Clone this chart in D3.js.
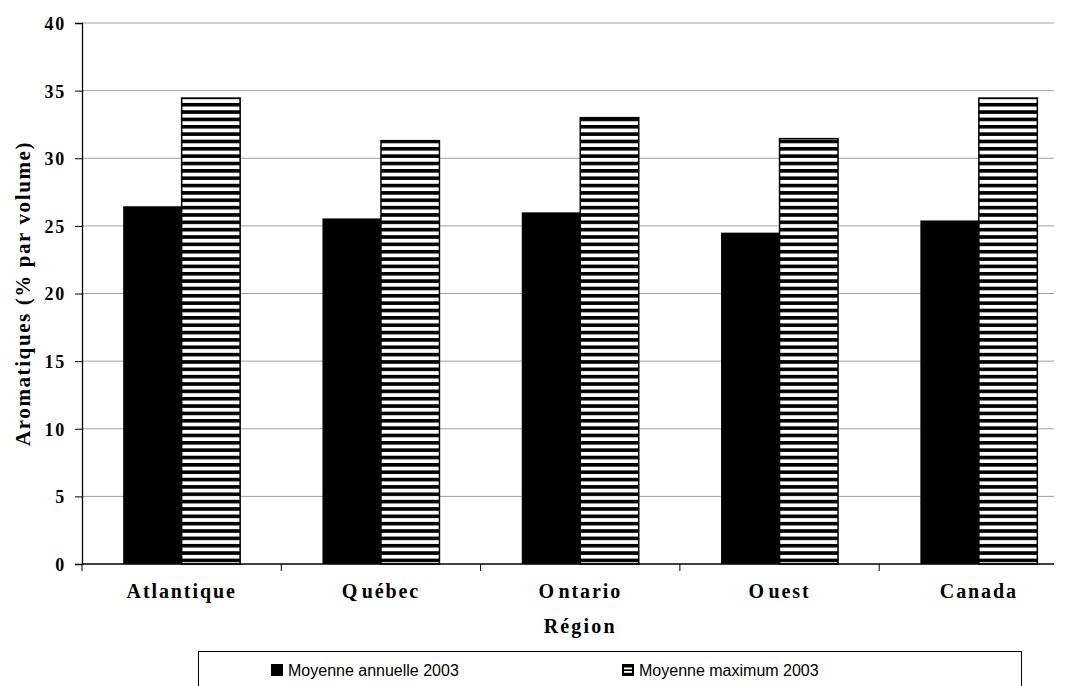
<!DOCTYPE html>
<html>
<head>
<meta charset="utf-8">
<script src="https://cdn.jsdelivr.net/npm/d3@7"></script>
<style>
  html, body { margin: 0; padding: 0; background: #fff; }
  svg { display: block; }
</style>
</head>
<body>
<svg id="chart" width="1070" height="686"></svg>
<script>
// Aromatic content of gasoline by region, 2003 (% by volume)
const regions = ["Atlantique", "Québec", "Ontario", "Ouest", "Canada"];
const annualMean = [26.45, 25.55, 26.0, 24.5, 25.4];
const maxMean = [34.45, 31.3, 33.0, 31.45, 34.45];
const seriesNames = ["Moyenne annuelle 2003", "Moyenne maximum 2003"];
const yTicks = [0, 5, 10, 15, 20, 25, 30, 35, 40];

const svg = d3.select("#chart");
const serif = "'Liberation Serif', 'Times New Roman', serif";
const sans = "'Liberation Sans', Arial, sans-serif";

// Plot frame
const x0 = 82, bandRight = 1078.5, gridRight = 1054;
const y0 = 564, y1 = 23;

const defs = svg.append("defs");
// Horizontal stripes for the maximum series
const pat = defs.append("pattern")
  .attr("id", "stripes")
  .attr("patternUnits", "userSpaceOnUse")
  .attr("width", 8).attr("height", 7.35);
pat.append("rect").attr("width", 8).attr("height", 7.35).attr("fill", "#fff");
pat.append("rect").attr("width", 8).attr("height", 3.6).attr("fill", "#000");

const x = d3.scaleBand().domain(regions).range([x0, bandRight]);
const y = d3.scaleLinear().domain([0, 40]).range([y0, y1]);

// Horizontal gridlines
svg.append("g")
  .selectAll("line")
  .data(yTicks.filter(d => d > 0))
  .join("line")
  .attr("x1", x0).attr("x2", gridRight)
  .attr("y1", d => y(d)).attr("y2", d => y(d))
  .attr("stroke", "#a0a0a0").attr("stroke-width", 1);

// Bars: pairs centred in each region band
const barW = x.bandwidth() * 0.2935;
const cx = d => x(d) + x.bandwidth() / 2;
const groups = svg.append("g").selectAll("g")
  .data(regions)
  .join("g");

groups.append("rect")
  .attr("x", d => cx(d) - barW)
  .attr("y", (d, i) => y(annualMean[i]))
  .attr("width", barW)
  .attr("height", (d, i) => y(0) - y(annualMean[i]))
  .attr("fill", "#000");

groups.append("rect")
  .attr("x", d => cx(d))
  .attr("y", (d, i) => y(maxMean[i]))
  .attr("width", barW)
  .attr("height", (d, i) => y(0) - y(maxMean[i]))
  .attr("fill", "url(#stripes)")
  .attr("stroke", "#000")
  .attr("stroke-width", 1.5);

// Y axis
const yAxis = svg.append("g")
  .attr("transform", `translate(${x0},0)`)
  .call(d3.axisLeft(y).tickValues(yTicks).tickSize(7).tickPadding(9));
yAxis.select(".domain").attr("stroke", "#000").attr("stroke-width", 1.3);
yAxis.selectAll(".tick line").attr("stroke", "#000");
yAxis.selectAll("text")
  .attr("font-family", serif)
  .attr("font-weight", "bold")
  .attr("font-size", 18)
  .attr("letter-spacing", 1.8)
  .attr("dy", "0.36em")
  .attr("fill", "#000");

// X axis baseline with tick marks at region boundaries
svg.append("line")
  .attr("x1", x0).attr("x2", gridRight).attr("y1", y0).attr("y2", y0)
  .attr("stroke", "#000").attr("stroke-width", 1.3);
const bounds = regions.map(d => x(d)).concat([bandRight]).filter(v => v <= gridRight);
svg.append("g").selectAll("line")
  .data(bounds)
  .join("line")
  .attr("x1", d => d).attr("x2", d => d)
  .attr("y1", y0).attr("y2", y0 + 7)
  .attr("stroke", "#000");

// Region labels (first letter set slightly apart, as typeset)
const gap = { "Québec": 2.5, "Ontario": 2.5, "Ouest": 2.5 };
const xl = svg.append("g").selectAll("text")
  .data(regions)
  .join("text")
  .attr("x", d => cx(d))
  .attr("y", y0 + 34)
  .attr("text-anchor", "middle")
  .attr("font-family", serif)
  .attr("font-weight", "bold")
  .attr("font-size", 20)
  .attr("letter-spacing", 1.9);
xl.append("tspan").text(d => d.slice(0, 1));
xl.append("tspan").attr("dx", d => gap[d] || 0).text(d => d.slice(1));

// Axis titles
svg.append("text")
  .attr("x", (x0 + bandRight) / 2)
  .attr("y", 633)
  .attr("text-anchor", "middle")
  .attr("font-family", serif)
  .attr("font-weight", "bold")
  .attr("font-size", 20)
  .attr("letter-spacing", 2.2)
  .text("Région");

svg.append("text")
  .attr("transform", `translate(30,${(y0 + y1) / 2}) rotate(-90)`)
  .attr("text-anchor", "middle")
  .attr("font-family", serif)
  .attr("font-weight", "bold")
  .attr("font-size", 21)
  .attr("letter-spacing", 1.6)
  .text("Aromatiques (% par volume)");

// Legend
const leg = svg.append("g");
leg.append("rect")
  .attr("x", 198.5).attr("y", 651.5)
  .attr("width", 823).attr("height", 50)
  .attr("fill", "#fff").attr("stroke", "#000").attr("stroke-width", 1);

const legItems = [
  { name: seriesNames[0], striped: false, sx: 271 },
  { name: seriesNames[1], striped: true, sx: 622 }
];

const li = leg.selectAll("g.item").data(legItems).join("g").attr("class", "item");
li.append("rect")
  .attr("x", d => d.sx + 0.5).attr("y", 664.5)
  .attr("width", 11).attr("height", 11)
  .attr("fill", "#000")
  .attr("stroke", "#000").attr("stroke-width", 1);
// white stripes inside the striped swatch
li.filter(d => d.striped)
  .selectAll("rect.band")
  .data([667.5, 671])
  .join("rect")
  .attr("class", "band")
  .attr("x", function () { return d3.select(this.parentNode).datum().sx + 2; })
  .attr("y", d => d)
  .attr("width", 8).attr("height", 1.8)
  .attr("fill", "#fff");
li.append("text")
  .attr("x", d => d.sx + 17)
  .attr("y", 676)
  .attr("font-family", sans)
  .attr("font-size", 16)
  .text(d => d.name);
</script>
</body>
</html>
